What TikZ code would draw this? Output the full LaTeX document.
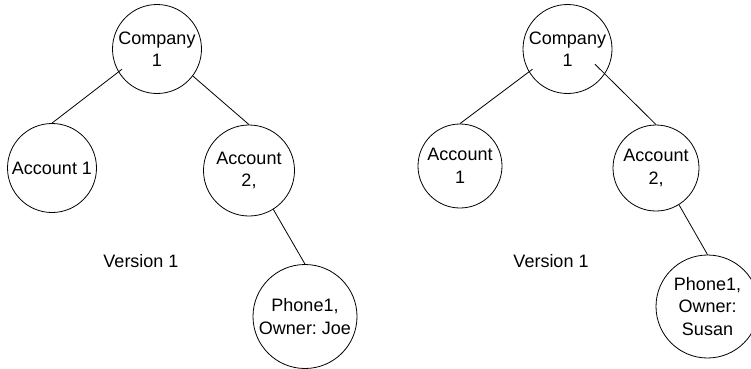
\documentclass[tikz,border=0pt]{standalone}
\usepackage{fontspec}
\setmainfont{Liberation Sans}
\usetikzlibrary{calc}
\frenchspacing
\begin{document}
\begin{tikzpicture}[x=1pt,y=-1pt,
  tnode/.style={circle,draw,line width=0.8pt,inner sep=0pt,align=center,
    font=\fontsize{18}{22.5}\selectfont},
  lbl/.style={inner sep=0pt,font=\fontsize{18}{22.5}\selectfont},
  edge/.style={line width=0.8pt}]
\useasboundingbox (0,0) rectangle (751,368);
% left tree
\node[tnode,minimum size=89pt] (lc) at (157,49) {Company\\1};
\node[tnode,minimum size=89pt] (la1) at (52,168) {Account 1};
\node[tnode,minimum size=91pt] (la2) at (249,170.5) {Account\\2,};
\node[tnode,minimum size=104pt] (lp) at (305,316.5) {Phone1,\\Owner: Joe};
\node[lbl] (lv) at (141,261) {Version 1};
\draw[edge] ($(lc.center)!0.9!(lc.-150)$) -- (la1.90);
\draw[edge] (lc.-37) -- (la2.90);
\draw[edge] (la2.-58) -- (lp.90);
% right tree
\node[tnode,minimum size=89pt] (rc) at (567.5,49) {Company\\1};
\node[tnode,minimum size=84pt] (ra1) at (460,166) {Account\\1};
\node[tnode,minimum size=86pt] (ra2) at (656,168) {Account\\2,};
\node[tnode,minimum size=103pt] (rp) at (707.5,306.5) {Phone1,\\Owner:\\Susan};
\node[lbl] (rv) at (551,261) {Version 1};
\draw[edge] ($(rc.center)!0.9!(rc.-150)$) -- (ra1.90);
\draw[edge] ($(rc.center)!0.7!(rc.-29)$) -- (ra2.90);
\draw[edge] (ra2.-58) -- (rp.90);
\end{tikzpicture}
\end{document}
